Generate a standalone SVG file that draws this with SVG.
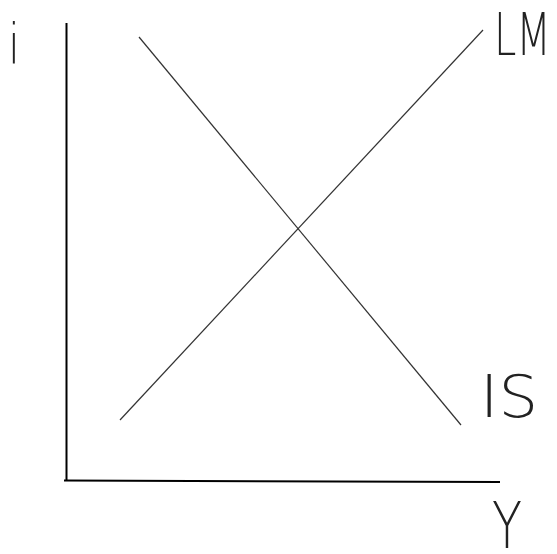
<svg xmlns="http://www.w3.org/2000/svg" width="557" height="554" viewBox="0 0 557 554">
<style>
.ax{stroke:#000;stroke-width:2;fill:none}
.cv{stroke:#333;stroke-width:1.2;fill:none}
.lb{font-family:"DejaVu Sans","Liberation Sans",sans-serif;font-weight:200;fill:#222}
</style>
<rect width="557" height="554" fill="#fff"/>
<g id="axes">
<line class="ax" x1="66.5" y1="23" x2="66.5" y2="481"/>
<line class="ax" x1="64" y1="480.5" x2="500" y2="482"/>
</g>
<g id="connectors">
<line id="LM-curve" class="cv" x1="120" y1="420" x2="483" y2="30"/>
<line id="IS-curve" class="cv" x1="139" y1="37" x2="461" y2="425"/>
</g>
<g id="label-i"><text class="lb" x="8" y="63" font-size="56" textLength="12" lengthAdjust="spacingAndGlyphs">i</text></g>
<g id="label-LM"><text class="lb" x="494" y="55" font-size="58" textLength="57" lengthAdjust="spacingAndGlyphs">LM</text></g>
<g id="label-IS"><text class="lb" x="480" y="417" font-size="58" textLength="58" lengthAdjust="spacingAndGlyphs">IS</text></g>
<g id="label-Y"><text class="lb" x="492" y="548" font-size="64" textLength="30" lengthAdjust="spacingAndGlyphs">Y</text></g>
</svg>
